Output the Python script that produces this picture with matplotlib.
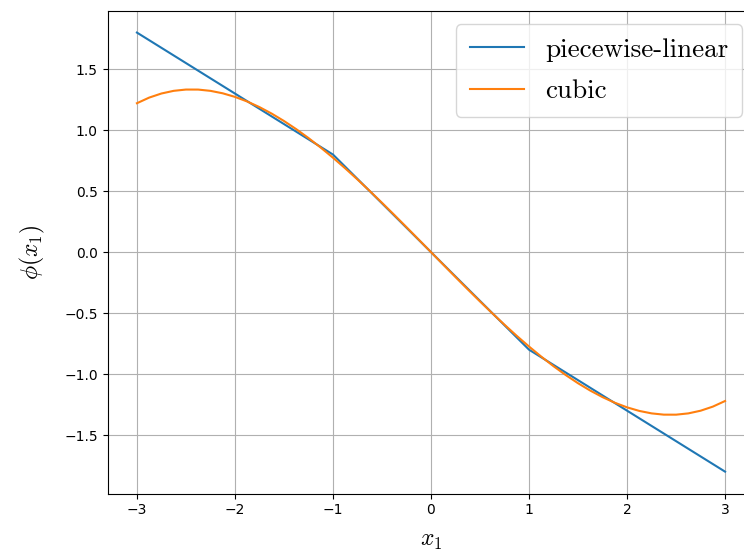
import matplotlib

matplotlib.use("Agg")
import matplotlib.pyplot as plt

plt.rcParams["mathtext.fontset"] = "cm"

# piecewise-linear breakpoints
pl_x = [-3.0, -1.0, 0.0, 1.0, 3.0]
pl_y = [1.8, 0.8, 0.0, -0.8, -1.8]

# cubic curve (x from -3 to 3 in steps of 0.125)
cub_x = [-3.0, -2.875, -2.75, -2.625, -2.5, -2.375, -2.25, -2.125, -2.0, -1.875, -1.75, -1.625,
         -1.5, -1.375, -1.25, -1.125, -1.0, -0.875, -0.75, -0.625, -0.5, -0.375, -0.25, -0.125,
         0.0, 0.125, 0.25, 0.375, 0.5, 0.625, 0.75, 0.875, 1.0, 1.125, 1.25, 1.375,
         1.5, 1.625, 1.75, 1.875, 2.0, 2.125, 2.25, 2.375, 2.5, 2.625, 2.75, 2.875, 3.0]
cub_y = [1.2207, 1.2668, 1.3004, 1.3223, 1.3328, 1.3326, 1.3222, 1.3021, 1.2728, 1.2349, 1.1890, 1.1355,
         1.0751, 1.0082, 0.9354, 0.8571, 0.7741, 0.6868, 0.5956, 0.5013, 0.4043, 0.3051, 0.2043, 0.1024,
         0.0, -0.1024, -0.2043, -0.3051, -0.4043, -0.5013, -0.5956, -0.6868, -0.7741, -0.8571, -0.9354, -1.0082,
         -1.0751, -1.1355, -1.1890, -1.2349, -1.2728, -1.3021, -1.3222, -1.3326, -1.3328, -1.3223, -1.3004, -1.2668, -1.2207]

fig = plt.figure(figsize=(7.44, 5.53), dpi=100)
ax = fig.add_axes([0.1445, 0.1074, 0.8696, 0.8734])
ax.plot(pl_x, pl_y, label="piecewise-linear")
ax.plot(cub_x, cub_y, label="cubic")
ax.set_xlim(-3.3, 3.3)
ax.set_ylim(-1.98, 1.98)
ax.grid(True)
ax.set_xlabel(r"$x_1$", fontsize=17, labelpad=8)
ax.set_ylabel(r"$\phi(x_1)$", fontsize=17, labelpad=12)
ax.legend(loc="upper right", prop={"family": "cmr10", "size": 19.5},
          bbox_to_anchor=(1.002, 1.0), labelspacing=0.65, borderpad=0.5)

fig.savefig("out.png", dpi=100)
